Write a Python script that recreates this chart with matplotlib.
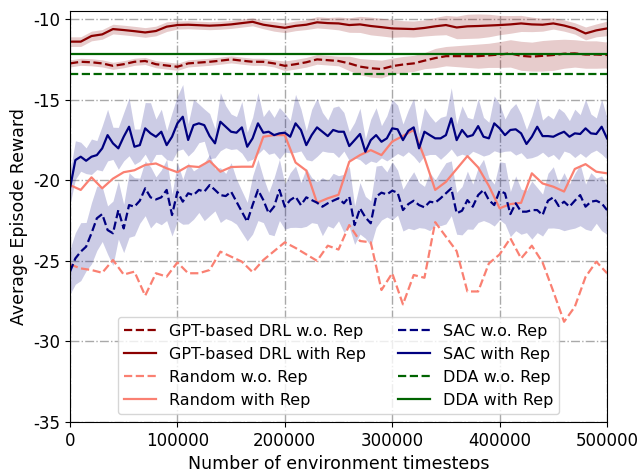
import numpy as np
import matplotlib
matplotlib.use('Agg')
import matplotlib.pyplot as plt

plt.rcParams['axes.unicode_minus'] = False

# x 축 (timesteps)
coarse_steps = np.arange(0, 500001, 10000)
fine_steps = np.arange(0, 500001, 5000)

# GPT-based DRL
gpt_rep = [-11.4, -11.4, -11.05, -10.95, -10.62, -10.68, -10.75, -10.83, -10.74, -10.47,
           -10.37, -10.35, -10.38, -10.41, -10.38, -10.33, -10.25, -10.17, -10.35, -10.45,
           -10.54, -10.42, -10.35, -10.2, -10.25, -10.27, -10.37, -10.33, -10.43, -10.5,
           -10.58, -10.6, -10.62, -10.55, -10.45, -10.37, -10.52, -10.45, -10.43, -10.4,
           -10.37, -10.33, -10.27, -10.33, -10.35, -10.27, -10.4, -10.58, -10.89, -10.7, -10.58]
gpt_rep_std = [0.3, 0.3, 0.3, 0.3, 0.3, 0.3, 0.3, 0.3, 0.3, 0.3,
               0.25, 0.25, 0.25, 0.25, 0.25, 0.25, 0.25, 0.25, 0.25, 0.3,
               0.3, 0.3, 0.3, 0.35, 0.35, 0.4, 0.45, 0.5, 0.55, 0.55,
               0.55, 0.5, 0.5, 0.5, 0.55, 0.6, 0.7, 0.75, 0.75, 0.7,
               0.6, 0.55, 0.5, 0.45, 0.4, 0.35, 0.35, 0.35, 0.4, 0.4, 0.45]
gpt_norep = [-12.75, -12.65, -12.68, -12.75, -12.9, -12.8, -12.65, -12.6, -12.8, -12.88,
             -12.96, -12.75, -12.7, -12.65, -12.58, -12.5, -12.58, -12.65, -12.65, -12.75,
             -12.9, -12.8, -12.68, -12.5, -12.55, -12.6, -12.75, -12.95, -13.05, -13.1,
             -12.92, -12.82, -12.75, -12.58, -12.42, -12.3, -12.3, -12.3, -12.3, -12.25,
             -12.2, -12.13, -12.28, -12.33, -12.28, -12.23, -12.15, -12.13, -12.2, -12.2, -12.23]
gpt_norep_std = [0.22, 0.22, 0.22, 0.22, 0.22, 0.22, 0.22, 0.22, 0.22, 0.22,
                 0.22, 0.22, 0.22, 0.22, 0.22, 0.22, 0.22, 0.22, 0.22, 0.22,
                 0.3, 0.3, 0.3, 0.3, 0.3, 0.3, 0.45, 0.5, 0.55, 0.55,
                 0.5, 0.5, 0.5, 0.5, 0.6, 0.6, 0.65, 0.7, 0.75, 0.75,
                 0.8, 0.85, 0.9, 0.9, 0.95, 0.95, 0.9, 0.85, 0.85, 0.85, 0.8]

# Random
random_rep = [-20.3, -20.6, -19.82, -20.5, -19.9, -19.5, -19.38, -19.05, -18.96, -19.26,
              -19.5, -19.12, -19.18, -18.8, -19.47, -19.18, -19.16, -19.16, -17.3, -17.2,
              -17.2, -18.9, -19.4, -21.4, -21.12, -20.9, -18.85, -18.44, -18.13, -18.44,
              -17.6, -17.25, -16.88, -18.6, -20.6, -20.1, -19.3, -18.5, -19.2, -20.35,
              -21.74, -21.48, -21.4, -19.57, -20.2, -20.4, -20.7, -19.3, -19.0, -19.47, -19.57]
random_norep = [-25.22, -25.47, -25.57, -25.74, -24.95, -25.85, -25.67, -27.16, -25.77, -25.98,
                -25.1, -25.77, -25.77, -25.57, -24.43, -24.74, -25.05, -25.7, -24.95, -24.4,
                -23.85, -24.2, -24.6, -25.0, -24.06, -24.3, -22.78, -23.77, -23.85, -26.81,
                -25.77, -27.7, -25.88, -26.05, -22.6, -23.5, -24.4, -26.9, -26.9, -25.16,
                -24.6, -23.6, -24.85, -24.06, -25.1, -26.9, -28.78, -27.85, -26.0, -25.05, -25.77]

# SAC
sac_rep = [-20.5, -18.75, -18.54, -18.79, -18.54, -18.44, -18.02, -17.2, -17.71, -18.02,
           -17.3, -16.68, -17.92, -17.82, -16.78, -17.09, -17.3, -16.99, -17.82, -17.3,
           -16.47, -16.06, -17.5, -16.58, -16.47, -16.58, -17.26, -17.71, -16.37, -16.68,
           -16.99, -17.05, -16.72, -17.92, -17.4, -16.47, -17.05, -16.99, -17.2, -17.09,
           -17.05, -17.3, -16.47, -16.88, -17.82, -17.2, -16.72, -16.99, -17.26, -16.88,
           -16.99, -16.99, -17.88, -17.51, -17.13, -18.23, -17.51, -17.2, -17.61, -17.4,
           -16.78, -16.84, -17.51, -16.93, -16.72, -18.02, -16.99, -17.2, -17.4, -17.4,
           -17.2, -16.16, -17.51, -16.88, -17.3, -17.2, -16.64, -17.3, -17.4, -16.47,
           -16.78, -17.2, -16.88, -16.84, -17.09, -17.75, -17.3, -16.68, -17.26, -17.26,
           -17.3, -17.13, -16.99, -17.3, -17.09, -17.13, -16.78, -17.09, -17.13, -16.68, -17.4]
sac_rep_std = [1.0, 1.2, 0.9, 0.8, 1.1, 0.9, 1.4, 1.6, 1.0, 1.3,
               1.5, 1.8, 1.1, 1.0, 1.6, 1.9, 1.1, 1.4, 0.9, 1.5,
               1.7, 2.0, 1.0, 1.6, 1.2, 1.0, 1.4, 0.9, 1.8, 1.3,
               1.1, 1.0, 1.6, 0.9, 1.3, 1.9, 1.0, 1.4, 1.1, 1.6,
               1.2, 1.0, 1.8, 1.3, 0.9, 1.6, 1.8, 1.2, 1.0, 1.4,
               1.6, 1.2, 0.9, 1.1, 1.6, 0.8, 1.3, 1.7, 1.0, 1.4,
               1.8, 1.5, 1.0, 1.3, 1.8, 0.9, 1.5, 1.2, 1.0, 1.3,
               1.2, 1.9, 1.0, 1.5, 1.2, 1.0, 1.7, 1.2, 1.0, 1.7,
               1.5, 1.0, 1.3, 1.6, 1.2, 0.9, 1.3, 1.8, 1.0, 1.3,
               1.1, 1.6, 1.2, 1.0, 1.5, 1.2, 1.8, 1.2, 1.0, 1.7, 1.3]
sac_norep = [-25.67, -24.85, -24.43, -24.12, -23.29, -22.36, -22.1, -23.09, -23.29, -21.85,
             -22.99, -21.54, -21.64, -21.27, -20.5, -21.06, -21.19, -21.06, -20.6, -22.16,
             -20.71, -21.33, -20.81, -20.92, -20.6, -20.71, -20.3, -20.6, -20.92, -20.98,
             -20.71, -21.33, -21.95, -22.57, -21.54, -20.6, -21.23, -22.05, -21.64, -20.6,
             -21.64, -21.23, -21.02, -21.54, -21.06, -21.23, -21.39, -21.64, -21.43, -21.27,
             -21.12, -21.43, -21.02, -22.78, -21.74, -22.3, -22.67, -21.02, -20.77, -20.88,
             -20.65, -20.77, -21.85, -21.48, -21.27, -21.54, -21.68, -21.33, -21.39, -21.12,
             -20.81, -20.5, -22.05, -21.89, -21.23, -21.64, -20.92, -20.6, -21.23, -21.54,
             -20.65, -20.81, -22.1, -21.43, -21.95, -21.95, -21.85, -21.85, -22.16, -21.27,
             -21.06, -21.6, -21.33, -21.64, -21.27, -20.92, -21.64, -21.33, -21.27, -21.43, -21.85]
sac_norep_std = [1.4, 1.6, 1.8, 1.5, 1.9, 2.0, 1.7, 1.5, 2.0, 1.8,
                 1.5, 2.0, 1.8, 1.4, 1.7, 1.9, 1.4, 1.7, 1.9, 1.3,
                 1.8, 1.4, 1.9, 1.5, 1.4, 1.8, 1.9, 1.3, 1.7, 1.4,
                 1.8, 1.4, 1.3, 1.2, 1.8, 1.9, 1.4, 1.3, 1.8, 1.9,
                 1.4, 1.7, 1.9, 1.4, 1.8, 1.4, 1.3, 1.8, 1.4, 1.7,
                 1.4, 1.8, 1.9, 1.2, 1.6, 1.3, 1.4, 1.9, 1.7, 1.4,
                 1.8, 1.4, 1.3, 1.5, 1.8, 1.4, 1.3, 1.8, 1.4, 1.7,
                 1.9, 1.7, 1.3, 1.5, 1.8, 1.4, 1.7, 1.9, 1.4, 1.3,
                 1.8, 1.9, 1.4, 1.7, 1.4, 1.3, 1.8, 1.4, 1.3, 1.7,
                 1.9, 1.4, 1.8, 1.4, 1.7, 1.9, 1.4, 1.8, 1.4, 1.7, 1.5]

# DDA (constant)
dda_rep = -12.17
dda_norep = -13.41


def band(ax, x, mean, std, color):
    mean = np.array(mean)
    std = np.array(std)
    ax.fill_between(x, mean - std, mean + std, color=color, alpha=0.2, linewidth=0)


fig = plt.figure(figsize=(6.41, 4.69), dpi=100)
ax = fig.add_axes([0.1092, 0.1002, 0.8378, 0.8763])

band(ax, coarse_steps, gpt_norep, gpt_norep_std, 'darkred')
band(ax, coarse_steps, gpt_rep, gpt_rep_std, 'darkred')
band(ax, fine_steps, sac_norep, sac_norep_std, 'navy')
band(ax, fine_steps, sac_rep, sac_rep_std, 'navy')

ax.plot(coarse_steps, gpt_norep, '--', color='darkred', lw=1.6, label='GPT-based DRL w.o. Rep')
ax.plot(coarse_steps, gpt_rep, '-', color='darkred', lw=1.6, label='GPT-based DRL with Rep')
ax.plot(coarse_steps, random_norep, '--', color='salmon', lw=1.6, label='Random w.o. Rep')
ax.plot(coarse_steps, random_rep, '-', color='salmon', lw=1.6, label='Random with Rep')
ax.plot(fine_steps, sac_norep, '--', color='navy', lw=1.6, label='SAC w.o. Rep')
ax.plot(fine_steps, sac_rep, '-', color='navy', lw=1.6, label='SAC with Rep')
ax.axhline(dda_norep, ls='--', color='darkgreen', lw=1.6, label='DDA w.o. Rep')
ax.axhline(dda_rep, ls='-', color='darkgreen', lw=1.6, label='DDA with Rep')

ax.set_xlim(0, 500000)
ax.set_ylim(-35, -9.5)
ax.set_xticks([0, 100000, 200000, 300000, 400000, 500000])
ax.set_yticks([-35, -30, -25, -20, -15, -10])
ax.tick_params(labelsize=12)
ax.grid(True, ls='-.', color='darkgray', lw=1)
ax.set_axisbelow(True)
ax.set_xlabel('Number of environment timesteps', fontsize=12.5)
ax.set_ylabel('Average Episode Reward', fontsize=12.5)
ax.legend(ncol=2, loc='lower center', fontsize=11.5, handlelength=2.0)

fig.savefig('out.png', dpi=100)
